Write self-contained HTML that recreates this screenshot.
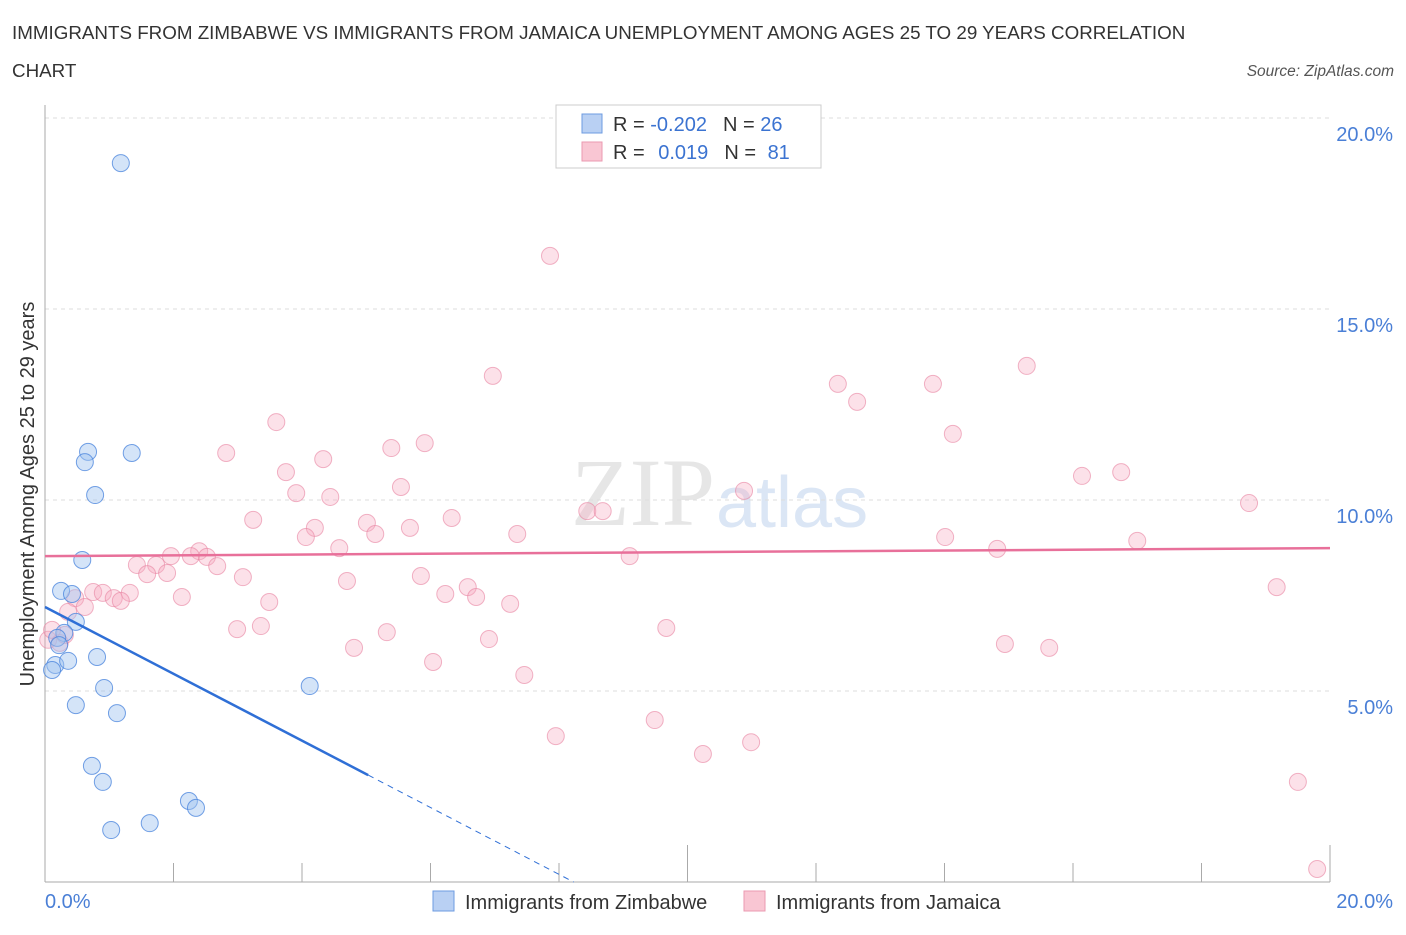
<!DOCTYPE html>
<html><head><meta charset="utf-8"><style>
body{margin:0;background:#fff;font-family:"Liberation Sans",sans-serif;}
</style></head><body>
<svg id="c" width="1406" height="930" xmlns="http://www.w3.org/2000/svg" font-family="Liberation Sans, sans-serif">
<text x="12" y="39" font-size="18.8" fill="#333">IMMIGRANTS FROM ZIMBABWE VS IMMIGRANTS FROM JAMAICA UNEMPLOYMENT AMONG AGES 25 TO 29 YEARS CORRELATION</text>
<text x="12" y="77" font-size="18.8" fill="#333">CHART</text>
<text x="1394" y="76" font-size="15.5" fill="#555" font-style="italic" text-anchor="end">Source: ZipAtlas.com</text>
<text x="715" y="525" font-size="96" fill="#e6e6e6" text-anchor="end" font-family="Liberation Serif, serif">ZIP</text>
<text x="716" y="527" font-size="72" fill="#dbe6f5">atlas</text>
<g id="grid"></g>
<g id="pts"></g>
<g id="lines"></g>
<text transform="translate(34,494) rotate(-90)" font-size="20" fill="#333" text-anchor="middle">Unemployment Among Ages 25 to 29 years</text>
<g>
<rect x="556" y="105" width="265" height="63" fill="#fff" stroke="#ccc"/>
<rect x="582" y="114" width="20" height="19" fill="#b9d0f3" stroke="#6d9be0"/>
<rect x="582" y="142" width="20" height="19" fill="#f9c6d3" stroke="#eb9ab0"/>
<text x="613" y="131" font-size="20" fill="#333">R = <tspan fill="#3b73d1">-0.202</tspan><tspan dx="16">N = </tspan><tspan fill="#3b73d1">26</tspan></text>
<text x="613" y="159" font-size="20" fill="#333">R = <tspan dx="8" fill="#3b73d1">0.019</tspan><tspan dx="16">N = </tspan><tspan dx="6" fill="#3b73d1">81</tspan></text>
</g>
<g>
<rect x="433" y="891" width="21" height="20" fill="#b9d0f3" stroke="#6d9be0"/>
<text x="465" y="909" font-size="20" fill="#333">Immigrants from Zimbabwe</text>
<rect x="744" y="891" width="21" height="20" fill="#f9c6d3" stroke="#eb9ab0"/>
<text x="776" y="909" font-size="20" fill="#333">Immigrants from Jamaica</text>
</g>
</svg>
<script>
const xTickLabels=["0.0%","20.0%"];
const yTicks=[5,10,15,20];
const yTickLabels=["5.0%","10.0%","15.0%","20.0%"];
const zimX=[1.18,0.67,0.62,1.35,0.78,0.58,0.25,0.42,0.48,0.30,0.19,0.22,0.16,0.11,0.36,0.81,0.92,0.48,1.12,4.12,0.73,0.90,1.03,1.63,2.24,2.35];
const zimY=[18.82,11.26,10.99,11.23,10.13,8.43,7.62,7.54,6.81,6.52,6.39,6.20,5.68,5.55,5.79,5.89,5.08,4.63,4.42,5.13,3.04,2.62,1.36,1.54,2.12,1.94];
const jamX=[7.86,6.97,3.60,2.82,4.33,5.39,5.91,3.75,3.91,4.44,5.54,3.24,4.20,4.06,5.01,5.14,5.68,6.33,7.35,8.44,8.68,10.88,12.34,12.64,13.82,14.13,15.28,16.14,16.75,18.74,14.01,14.82,17.00,19.17,9.10,4.58,1.96,2.40,2.52,2.27,1.43,1.73,1.59,1.90,2.68,3.08,4.70,5.85,6.58,6.23,6.71,7.24,2.13,0.75,0.90,1.07,1.32,1.18,0.47,0.62,0.36,3.49,2.99,3.36,5.32,4.81,6.04,6.91,7.46,9.67,14.94,15.63,9.49,7.95,10.24,10.99,19.50,19.80,0.05,0.23,0.31,0.11];
const jamY=[16.39,13.25,12.04,11.23,11.07,11.36,11.49,10.73,10.18,10.08,10.34,9.48,9.27,9.03,9.40,9.11,9.27,9.53,9.11,9.71,9.71,10.24,13.04,12.57,13.04,11.73,13.51,10.63,10.73,9.92,9.03,8.72,8.93,7.72,8.53,8.74,8.53,8.66,8.51,8.53,8.30,8.30,8.06,8.09,8.27,7.98,7.88,8.01,7.72,7.54,7.46,7.28,7.46,7.59,7.57,7.43,7.57,7.36,7.43,7.20,7.07,7.33,6.62,6.70,6.54,6.13,5.76,6.36,5.42,6.65,6.23,6.13,4.24,3.82,3.35,3.66,2.62,0.34,6.34,6.26,6.47,6.60];
const zimTrend=[7.20,-0.875];
const zimSolidEnd=5.03;
const jamTrend=[8.53,8.74];
const NS="http://www.w3.org/2000/svg";
const X=v=>45+v*(1285/20), Y=v=>882-v*38.2;
function mk(t,a,p){const e=document.createElementNS(NS,t);for(const k in a)e.setAttribute(k,a[k]);p.appendChild(e);return e;}
const g=document.getElementById('grid'),pts=document.getElementById('pts'),ln=document.getElementById('lines');
yTicks.forEach((t,i)=>{
 const l=mk('line',{x1:45,x2:1330,y1:Y(t),y2:Y(t),stroke:'#ddd','stroke-dasharray':'4,4'},g);
 
 const tx=mk('text',{x:1393,y:Y(t)+23,'font-size':20,fill:'#4a7fd6','text-anchor':'end'},g);tx.textContent=yTickLabels[i];
 
});
const ax=mk('line',{x1:45,x2:45,y1:105,y2:882,stroke:'#aaa'},g);
const bx=mk('line',{x1:45,x2:1330,y1:882,y2:882,stroke:'#aaa'},g);
for(let i=1;i<=10;i++){const xx=X(i*2);const t=mk('line',{x1:xx,x2:xx,y1:882,y2:i%5==0?845:863,stroke:'#aaa'},g);
 }
[[0,'start',45],[20,'end',1393]].forEach((d,i)=>{const t=mk('text',{x:d[2],y:908,'font-size':20,fill:'#4a7fd6','text-anchor':d[1]},g);t.textContent=xTickLabels[i];
 });
jamX.forEach((x,i)=>{const c=mk('circle',{cx:X(x),cy:Y(jamY[i]),r:8.5,fill:'rgba(246,170,192,0.35)',stroke:'rgba(232,130,160,0.6)'},pts);
 });
zimX.forEach((x,i)=>{const c=mk('circle',{cx:X(x),cy:Y(zimY[i]),r:8.5,fill:'rgba(160,195,240,0.45)',stroke:'rgba(70,130,220,0.75)'},pts);
 });
const zEnd=-zimTrend[0]/zimTrend[1];
let l1=mk('line',{x1:X(0),y1:Y(zimTrend[0]),x2:X(zimSolidEnd),y2:Y(zimTrend[0]+zimTrend[1]*zimSolidEnd),stroke:'#2f6fd6','stroke-width':2.5},ln);

let l2=mk('line',{x1:X(zimSolidEnd),y1:Y(zimTrend[0]+zimTrend[1]*zimSolidEnd),x2:X(zEnd),y2:Y(0),stroke:'#2f6fd6','stroke-width':1,'stroke-dasharray':'6,5'},ln);

let l3=mk('line',{x1:X(0),y1:Y(jamTrend[0]),x2:X(20),y2:Y(jamTrend[1]),stroke:'#e8709a','stroke-width':2.5},ln);

</script>
</body></html>
